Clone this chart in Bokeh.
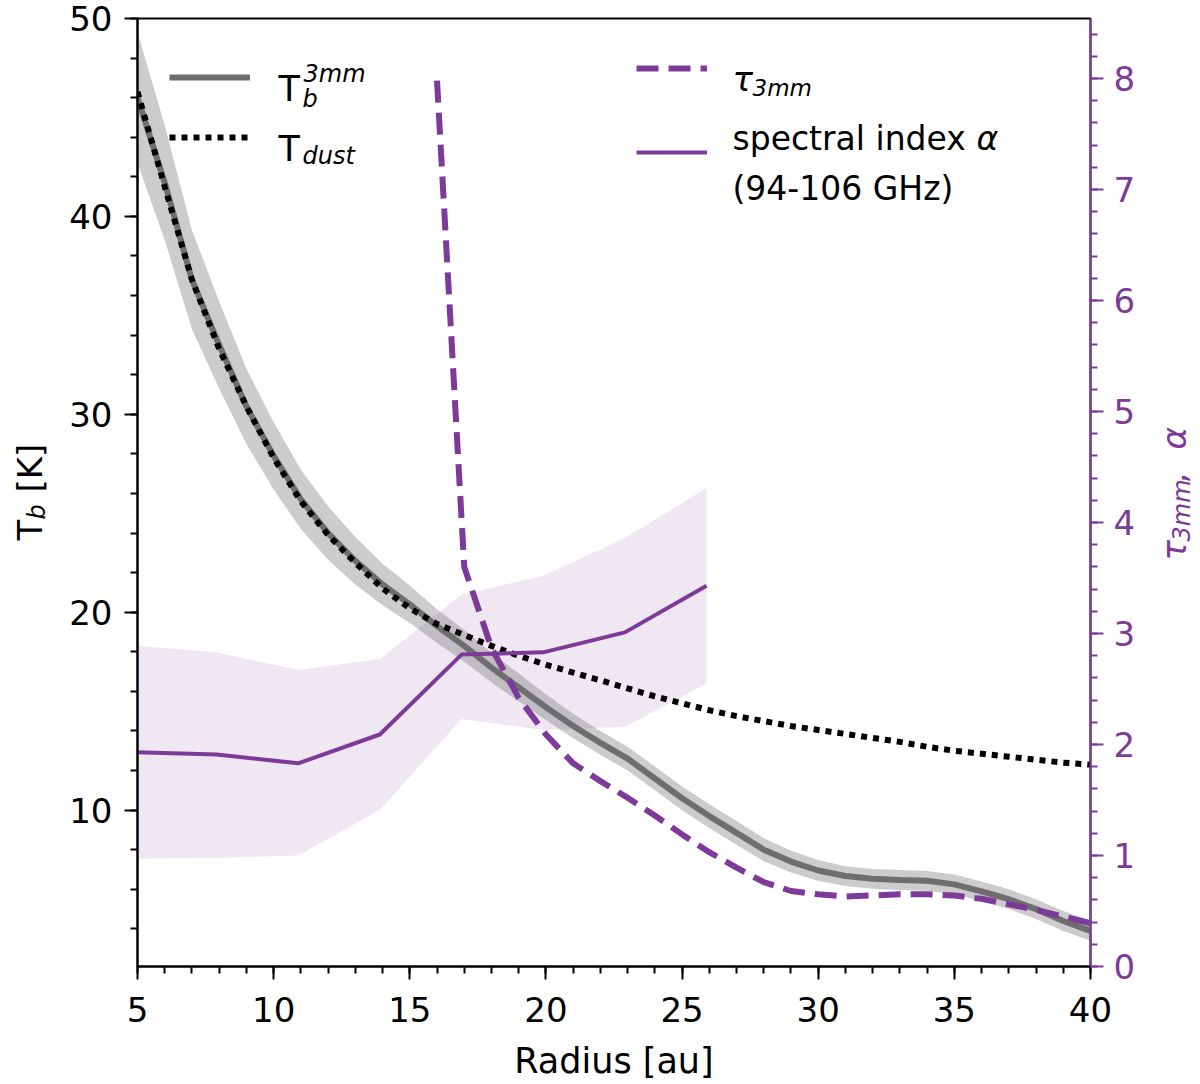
import math
from bokeh.plotting import figure
from bokeh.layouts import row
from bokeh.models import Range1d, LinearAxis, SingleIntervalTicker, Legend, LegendItem, Label
from bokeh.embed import file_html
from bokeh.resources import INLINE

# brightness temperature profile (left axis, K)
radius = list(range(5, 41))
tb = [46.0, 41.7, 36.8, 33.5, 30.4, 27.9, 25.7, 24.0, 22.6, 21.4, 20.4, 19.3,
      18.3, 17.2, 16.2, 15.2, 14.25, 13.4, 12.6, 11.6, 10.6, 9.7, 8.85, 8.0,
      7.4, 6.95, 6.67, 6.53, 6.47, 6.43, 6.25, 5.9, 5.5, 5.0, 4.4, 3.9]
tb_lo = [42.7, 38.8, 34.3, 31.3, 28.5, 26.2, 24.2, 22.65, 21.4, 20.35, 19.45, 18.45,
         17.5, 16.45, 15.5, 14.55, 13.63, 12.8, 12.0, 11.0, 10.0, 9.1, 8.25, 7.42,
         6.85, 6.42, 6.17, 6.03, 5.97, 5.93, 5.75, 5.4, 5.0, 4.5, 3.9, 3.4]
tb_hi = [49.3, 44.6, 39.3, 35.7, 32.3, 29.6, 27.2, 25.35, 23.8, 22.45, 21.35, 20.15,
         19.1, 17.95, 16.9, 15.85, 14.87, 14.0, 13.2, 12.2, 11.2, 10.3, 9.45, 8.58,
         7.95, 7.48, 7.17, 7.03, 6.97, 6.93, 6.75, 6.4, 6.0, 5.5, 4.9, 4.4]
t_dust = [46.3, 41.5, 36.8, 33.3, 30.4, 27.8, 25.6, 23.9, 22.5, 21.2, 20.2, 19.4,
          18.85, 18.3, 17.8, 17.35, 16.95, 16.56, 16.15, 15.75, 15.4, 15.05, 14.75, 14.5,
          14.25, 14.05, 13.85, 13.65, 13.45, 13.2, 13.0, 12.85, 12.7, 12.55, 12.4, 12.3]

# optical depth (right axis)
r_tau = list(range(16, 41))
tau = [7.98, 3.6, 2.87, 2.42, 2.09, 1.83, 1.67, 1.52, 1.36, 1.19, 1.03, 0.89, 0.76,
       0.68, 0.65, 0.63, 0.64, 0.65, 0.65, 0.64, 0.61, 0.56, 0.51, 0.45, 0.39]

# spectral index (right axis)
r_alpha = [4.9, 7.9, 10.9, 13.9, 16.9, 19.9, 22.9, 25.9]
alpha = [1.93, 1.91, 1.83, 2.09, 2.81, 2.83, 3.01, 3.43]
alpha_lo = [0.97, 0.98, 1.00, 1.41, 2.23, 2.13, 2.16, 2.55]
alpha_hi = [2.89, 2.83, 2.67, 2.77, 3.35, 3.52, 3.86, 4.31]

PURPLE = "#7e3a98"
FONT = "DejaVu Sans"
X0, X1, Y0, Y1 = 5, 40, 2.1, 50
H = 1084
LEFT_W, RIGHT_W = 50, 50
MAIN_W = 1200 - LEFT_W - RIGHT_W

p = figure(width=MAIN_W, height=H, output_backend="svg", toolbar_location=None,
           x_range=Range1d(X0, X1), y_range=Range1d(Y0, Y1),
           min_border_left=137 - LEFT_W, min_border_right=LEFT_W + MAIN_W - 1090,
           min_border_top=18, min_border_bottom=H - 966)
p.extra_y_ranges = {"right": Range1d(0, 8.54)}
p.grid.visible = False
p.outline_line_color = "black"
p.outline_line_width = 2


def style_axis(ax, color, interval, standoff):
    ax.ticker = SingleIntervalTicker(interval=interval, num_minor_ticks=5)
    ax.axis_line_color = color
    ax.axis_line_width = 2
    ax.major_tick_line_color = color
    ax.major_tick_line_width = 2
    ax.minor_tick_line_color = color
    ax.minor_tick_line_width = 2
    ax.major_tick_out = 13
    ax.major_tick_in = 0
    ax.minor_tick_out = 7
    ax.minor_tick_in = 0
    ax.major_label_text_color = color
    ax.major_label_text_font = FONT
    ax.major_label_text_font_size = "34px"
    ax.major_label_standoff = standoff


bottom = p.below[0]
left = p.left[0]
style_axis(bottom, "black", 5, 17)
style_axis(left, "black", 10, 12)
bottom.axis_label = "Radius [au]"
bottom.axis_label_text_font = FONT
bottom.axis_label_text_font_size = "35px"
bottom.axis_label_text_font_style = "normal"
bottom.axis_label_text_color = "black"
bottom.axis_label_standoff = 16

right = LinearAxis(y_range_name="right")
style_axis(right, PURPLE, 1, 10)
p.add_layout(right, "right")

# bands
p.varea(x=r_alpha, y1=alpha_lo, y2=alpha_hi, fill_color=PURPLE, fill_alpha=0.12,
        y_range_name="right")
p.varea(x=radius, y1=tb_lo, y2=tb_hi, fill_color="#808080", fill_alpha=0.4)

# lines
r_tb = p.line(radius, tb, line_color="#6e6e6e", line_width=6)
r_dust = p.line(radius, t_dust, line_color="black", line_width=6, line_dash="6 6")
r_al = p.line(r_alpha, alpha, line_color=PURPLE, line_width=4, y_range_name="right")
r_tau_line = p.line(r_tau, tau, line_color=PURPLE, line_width=6, line_dash="22 10",
                    y_range_name="right")

leg1 = Legend(items=[LegendItem(label=" ", renderers=[r_tb]),
                     LegendItem(label=" ", renderers=[r_dust])],
              location="top_left", margin=32, padding=0, spacing=6,
              glyph_width=81, glyph_height=54, label_height=54, label_width=20,
              label_standoff=0, label_text_font_size="1px",
              border_line_color=None, background_fill_alpha=0)
leg2 = Legend(items=[LegendItem(label=" ", renderers=[r_tau_line]),
                     LegendItem(label=" ", renderers=[r_al])],
              location="top_right", margin=30, padding=0, spacing=44,
              glyph_width=71, glyph_height=40, label_height=40, label_width=20,
              label_standoff=333, label_text_font_size="1px",
              border_line_color=None, background_fill_alpha=0)
p.add_layout(leg1)
p.add_layout(leg2)


def at_x(px):
    return X0 + (px - 137) * (X1 - X0) / 953


def at_y(py):
    return Y1 - (py - 18) * (Y1 - Y0) / 948


def put(fig, x, y, text, size, style="normal", color="black", angle=0):
    fig.add_layout(Label(x=x, y=y, text=text, text_font=FONT,
                         text_font_size=f"{size}px", text_font_style=style,
                         text_color=color, angle=angle,
                         text_align="left", text_baseline="alphabetic"))


def in_plot(text, px, py, size, style="normal", color="black"):
    put(p, at_x(px), at_y(py), text, size, style, color)


# legend texts
in_plot("T", 278, 88, 35)
in_plot("b", 302, 98, 24, "italic")
in_plot("3mm", 303, 73, 24, "italic")
in_plot("T", 278, 148, 35)
in_plot("dust", 302, 155, 24, "italic")
in_plot("τ", 732, 78, 34, "italic")
in_plot("3mm", 752, 87, 23, "italic")
in_plot("spectral index ", 732, 138, 33)
in_plot("α", 976, 138, 33, "italic")
in_plot("(94-106 GHz)", 732, 188, 33)


# narrow side strips hold the rotated axis titles (their frames line up with the plot frame)
def side_panel(w):
    f = figure(width=w, height=H, output_backend="svg", toolbar_location=None,
               title=None, x_range=Range1d(0, w), y_range=Range1d(H - 966, H - 18),
               x_axis_type=None, y_axis_type=None,
               min_border_left=0, min_border_right=0, min_border_top=0, min_border_bottom=0)
    f.outline_line_color = None
    return f


up = math.pi / 2

# left axis title
lp = side_panel(LEFT_W)
put(lp, 29, H - 540, "T", 34, angle=up)
put(lp, 36, H - 519, "b", 24, "italic", angle=up)
put(lp, 29, H - 492, "[K]", 34, angle=up)

# right axis title
rp = side_panel(RIGHT_W)
off = 1200 - RIGHT_W
put(rp, 1173 - off, H - 560, "τ", 34, "italic", PURPLE, up)
put(rp, 1181 - off, H - 541, "3mm", 24, "italic", PURPLE, up)
put(rp, 1173 - off, H - 483, ",", 34, "normal", PURPLE, up)
put(rp, 1173 - off, H - 449, "α", 34, "italic", PURPLE, up)

layout = row(lp, p, rp, spacing=0)
open("out.html", "w").write(file_html(layout, INLINE))
